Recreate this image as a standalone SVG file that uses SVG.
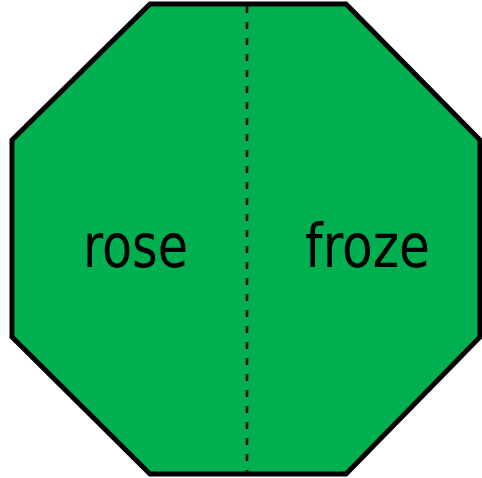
<svg xmlns="http://www.w3.org/2000/svg" width="482" height="478" viewBox="0 0 482 478">
<style>
.lbl{font-family:"DejaVu Sans Condensed","DejaVu Sans",sans-serif;font-size:60px;fill:#000;text-anchor:middle}
</style>
<rect width="482" height="478" fill="#fff"/>
<g id="octagon">
<polygon points="150,4 346,4 480,140 480,337 346,474 150,474 12,337 12,140" fill="#00B050" stroke="#000" stroke-width="5" stroke-linejoin="miter"/>
</g>
<g id="connectors">
<line x1="247" y1="6" x2="247" y2="472" stroke="#000" stroke-width="2.5" stroke-dasharray="7,9"/>
</g>
<g id="left">
<text class="lbl" x="135.5" y="267" textLength="105" lengthAdjust="spacingAndGlyphs">rose</text>
</g>
<g id="right">
<text class="lbl" x="367.5" y="267" textLength="125" lengthAdjust="spacingAndGlyphs">froze</text>
</g>
</svg>
